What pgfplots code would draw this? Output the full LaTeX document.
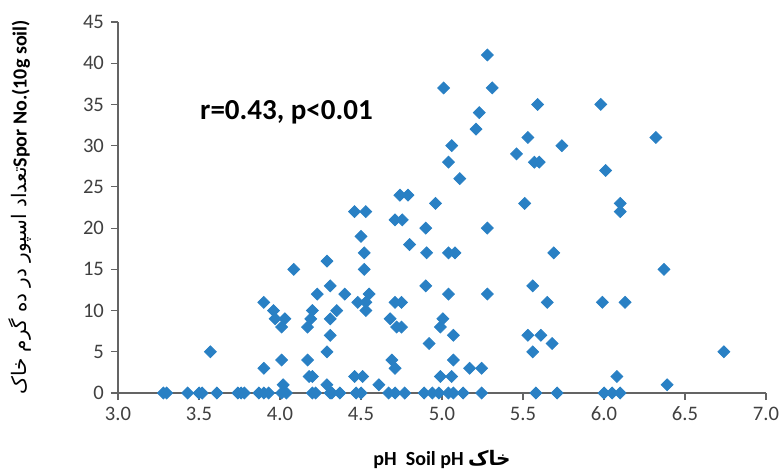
\documentclass[border=0pt]{standalone}
\usepackage{pgfplots}
\pgfplotsset{compat=1.18}
\usepackage{fontspec}
\setmainfont{Carlito}
\newfontfamily\arabicfont[Script=Arabic]{DejaVu Sans}
\TeXXeTstate=1
\definecolor{ptblue}{RGB}{41,128,196}
\definecolor{axgray}{RGB}{100,100,100}
\begin{document}
\begin{tikzpicture}
\useasboundingbox (-59pt,-39pt) rectangle (331pt,196.5pt);
\begin{axis}[
  at={(0,0)}, anchor=south west,
  scale only axis, width=324pt, height=185.5pt,
  xmin=3, xmax=7, ymin=0, ymax=45,
  axis lines=left,
  axis line style={-, draw=axgray, line width=0.6pt},
  tick style={draw=axgray, line width=0.6pt},
  tick align=outside, major tick length=3.5pt,
  xtick={3,3.5,4,4.5,5,5.5,6,6.5,7},
  ytick={0,5,10,15,20,25,30,35,40,45},
  /pgf/number format/assume math mode=true,
  xticklabel style={/pgf/number format/.cd,fixed,fixed zerofill,precision=1},
  ticklabel style={font=\fontsize{10.3}{12}\selectfont, text=black!75},
  clip=false,
  xlabel={\bfseries pH\ \ Soil pH {\arabicfont\beginR خاک\endR}},
  ylabel={{\arabicfont\beginR تعداد اسپور در ده گرم خاک\endR}\bfseries Spor No.(10g soil)},
  label style={font=\fontsize{10}{12}\selectfont, inner sep=0pt},
  xlabel style={at={(axis description cs:0.5,-0.18)}, anchor=center},
  ylabel style={at={(axis description cs:-0.151,0.5)}, anchor=center},
]
\addplot[only marks, mark=square*, mark size=2.1pt, mark options={rotate=45, fill=ptblue, draw=ptblue}] table {
x y
3.28 0
3.30 0
3.43 0
3.50 0
3.52 0
3.61 0
3.74 0
3.76 0
3.78 0
3.87 0
3.90 0
3.93 0
4.01 0
4.04 0
4.20 0
4.22 0
4.31 0
4.32 0
4.37 0
4.47 0
4.50 0
4.67 0
4.71 0
4.77 0
4.89 0
4.94 0
4.98 0
5.04 0
5.07 0
5.13 0
5.245 0
5.58 0
5.71 0
6.00 0
6.05 0
6.10 0
3.57 5
3.90 11
3.90 3
3.96 10
3.97 9
4.03 9
4.01 8
4.01 4
4.02 1
4.085 15
4.17 8
4.19 9
4.20 10
4.17 4
4.18 2
4.20 2
4.23 12
4.29 16
4.31 13
4.31 9
4.31 7
4.29 5
4.29 1
4.35 10
4.40 12
4.46 22
4.53 22
4.50 19
4.52 17
4.52 15
4.48 11
4.53 11
4.55 12
4.53 10
4.46 2
4.51 2
4.61 1
4.71 21
4.755 21
4.74 24
4.79 24
4.80 18
4.68 9
4.72 8
4.75 8
4.71 11
4.75 11
4.69 4
4.71 3
4.90 20
4.905 17
4.90 13
4.92 6
4.96 23
5.01 37
5.06 30
5.04 28
5.11 26
5.04 17
5.08 17
5.04 12
5.005 9
4.99 8
5.07 7
5.07 4
4.99 2
5.06 2
5.17 3
5.245 3
5.28 12
5.28 20
5.21 32
5.23 34
5.28 41
5.31 37
5.46 29
5.53 31
5.59 35
5.57 28
5.60 28
5.51 23
5.56 13
5.53 7
5.61 7
5.56 5
5.65 11
5.68 6
5.69 17
5.74 30
5.98 35
6.32 31
6.01 27
6.10 23
6.10 22
6.37 15
5.99 11
6.13 11
6.74 5
6.08 2
6.39 1
};
\node[anchor=west, inner sep=0pt, font=\bfseries\fontsize{14.5}{17}\selectfont] at (axis cs:3.505,34) {r=0.43, p<0.01};
\end{axis}
\end{tikzpicture}
\end{document}
